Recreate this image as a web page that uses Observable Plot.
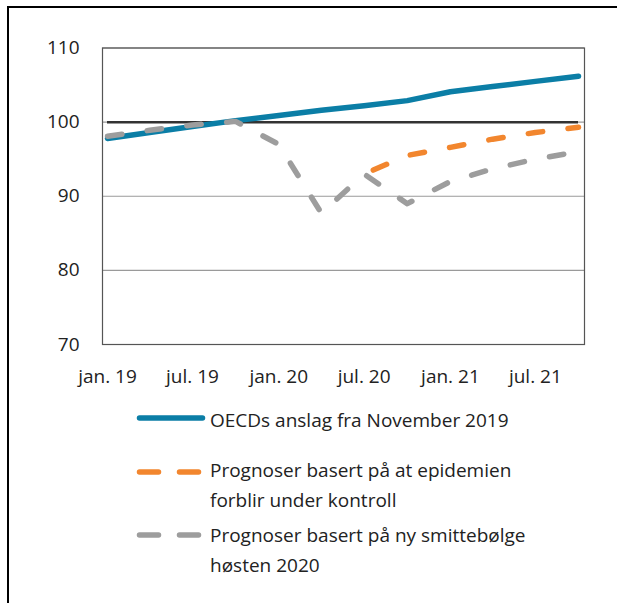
<!DOCTYPE html>
<html><head><meta charset="utf-8">
<script src="https://cdn.jsdelivr.net/npm/d3@7"></script>
<script src="https://cdn.jsdelivr.net/npm/@observablehq/plot@0.6"></script>
<style>
body{margin:0;background:#fff;font-family:"Open Sans",sans-serif;}
#wrap{position:relative;width:617px;height:603px;overflow:hidden;background:#fff;}
#border{position:absolute;left:7px;top:6px;width:700px;height:700px;border-top:2.5px solid #000;border-left:2.5px solid #000;}
#chart{position:absolute;left:0;top:0;}
#legend{position:absolute;left:0;top:395px;}
</style></head><body>
<div id="wrap"><div id="border"></div><div id="chart"></div><svg id="legend" width="617" height="208"></svg></div>
<script>
// Quarterly index values
const quarters = ["2019-01-01","2019-04-01","2019-07-01","2019-10-01","2020-01-01","2020-04-01","2020-07-01","2020-10-01","2021-01-01","2021-04-01","2021-07-01","2021-10-01"];
const oecd     = [97.8, 98.6, 99.4, 100.2, 100.9, 101.6, 102.2, 102.9, 104.1, 104.8, 105.5, 106.2];
const kontroll = [null, null, null, null, null, null, 93.0, 95.5, 96.6, 97.7, 98.6, 99.3];
const smitte   = [98.1, 98.9, 99.6, 100.1, 97.0, 87.7, 93.0, 89.0, 92.0, 93.7, 95.0, 96.0];
const tickDates  = ["2019-01-01","2019-07-01","2020-01-01","2020-07-01","2021-01-01","2021-07-01"];
const tickLabels = ["jan. 19","jul. 19","jan. 20","jul. 20","jan. 21","jul. 21"];
const yTicks = [70, 80, 90, 100, 110];
const seriesNames = [
  ["OECDs anslag fra November 2019"],
  ["Prognoser basert på at epidemien", "forblir under kontroll"],
  ["Prognoser basert på ny smittebølge", "høsten 2020"]
];
const seriesColors = ["#0b7ea6", "#f2862e", "#9d9d9d"];

const dates = quarters.map(d => new Date(d));
const rows = (vals) => dates.map((date, i) => ({date, value: vals[i]}));
const tickD = tickDates.map(d => new Date(d));

const chart = Plot.plot({
  width: 617,
  height: 395,
  marginLeft: 102,
  marginRight: 33,
  marginTop: 47.5,
  marginBottom: 51,
  style: {fontFamily: "'Open Sans', sans-serif", fontSize: "19px", color: "#222", background: "transparent"},
  x: {type: "utc", insetLeft: 5, insetRight: 6, label: null},
  y: {domain: [70, 110], label: null},
  marks: [
    Plot.ruleY(yTicks, {stroke: "#9a9a9a", strokeWidth: 1.2}),
    Plot.frame({stroke: "#555", strokeWidth: 1.2}),
    Plot.ruleY([100], {x1: () => dates[0], x2: () => dates[dates.length - 1], stroke: "#333", strokeWidth: 2.5}),
    Plot.line(rows(oecd), {x: "date", y: "value", stroke: seriesColors[0], strokeWidth: 5.5, strokeLinecap: "round", strokeLinejoin: "round"}),
    Plot.line(rows(kontroll), {x: "date", y: "value", stroke: seriesColors[1], strokeWidth: 5.5, strokeLinecap: "round", strokeLinejoin: "round", strokeDasharray: "14.5,25.5", strokeDashoffset: 30}),
    Plot.line(rows(smitte), {x: "date", y: "value", stroke: seriesColors[2], strokeWidth: 5.5, strokeLinecap: "round", strokeLinejoin: "round", strokeDasharray: "14.5,25.5"}),
    Plot.axisY({ticks: yTicks, tickSize: 0, tickPadding: 23, fill: "#222", label: null}),
    Plot.axisX({ticks: tickD, tickSize: 0, tickPadding: 25, fill: "#222", label: null,
      tickFormat: d => tickLabels[tickD.findIndex(t => +t === +d)]})
  ]
});
document.getElementById("chart").appendChild(chart);

// Legend
const lg = d3.select("#legend");
const swatchY = [23, 77, 140];
const baseY = [[32], [82, 112], [147, 177]];
seriesNames.forEach((lines, i) => {
  const path = lg.append("line")
    .attr("x1", 139.5).attr("x2", 202.5)
    .attr("y1", swatchY[i]).attr("y2", swatchY[i])
    .attr("stroke", seriesColors[i]).attr("stroke-width", 5.5)
    .attr("stroke-linecap", "round");
  if (i > 0) path.attr("stroke-dasharray", "19,21");
  lines.forEach((t, j) => {
    lg.append("text").attr("x", 210).attr("y", baseY[i][j])
      .attr("fill", "#222").attr("font-size", 19)
      .attr("font-family", "'Open Sans', sans-serif").text(t);
  });
});
</script>
</body></html>
